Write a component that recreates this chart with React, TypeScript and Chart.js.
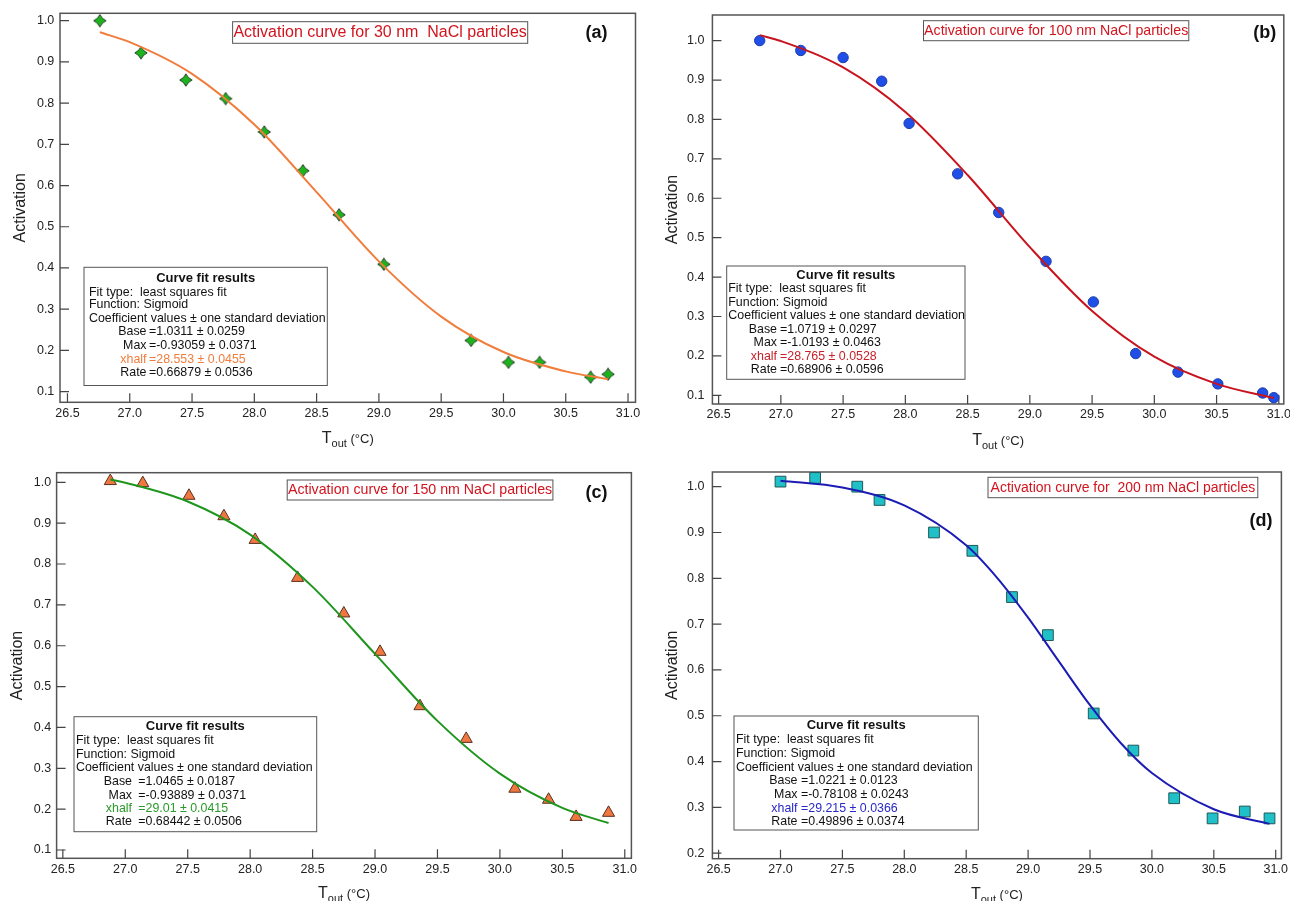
import React, { useEffect, useRef } from 'react';
import { Chart, registerables } from 'chart.js';

Chart.register(...registerables);

const FONT = '"Liberation Sans", Arial, Helvetica, sans-serif';

// ---------- tick labels ----------
const xTickValues = [26.5, 27.0, 27.5, 28.0, 28.5, 29.0, 29.5, 30.0, 30.5, 31.0];
const yTickValues = [0.1, 0.2, 0.3, 0.4, 0.5, 0.6, 0.7, 0.8, 0.9, 1.0];
const yTickValuesD = [0.2, 0.3, 0.4, 0.5, 0.6, 0.7, 0.8, 0.9, 1.0];

// ---------- (a) 30 nm ----------
const tempA = [26.76, 27.09, 27.45, 27.77, 28.08, 28.39, 28.68, 29.04, 29.74, 30.04, 30.29, 30.70, 30.84];
const actA = [1.0, 0.922, 0.856, 0.811, 0.730, 0.636, 0.529, 0.409, 0.224, 0.171, 0.171, 0.135, 0.142];
const fitTempA = [26.76, 27.0, 27.5, 28.0, 28.5, 29.0, 29.5, 30.0, 30.5, 30.84];
const fitActA = [0.972, 0.948, 0.871, 0.748, 0.584, 0.416, 0.282, 0.196, 0.149, 0.130];

// ---------- (b) 100 nm ----------
const tempB = [26.83, 27.16, 27.50, 27.81, 28.03, 28.42, 28.75, 29.13, 29.51, 29.85, 30.19, 30.51, 30.87, 30.96];
const actB = [1.0, 0.975, 0.957, 0.897, 0.790, 0.662, 0.564, 0.440, 0.337, 0.206, 0.159, 0.129, 0.106, 0.094];
const fitTempB = [26.83, 27.0, 27.5, 28.0, 28.5, 29.0, 29.5, 30.0, 30.5, 30.96];
const fitActB = [1.014, 0.999, 0.932, 0.819, 0.659, 0.476, 0.314, 0.198, 0.129, 0.093];

// ---------- (c) 150 nm ----------
const tempC = [26.88, 27.14, 27.51, 27.79, 28.04, 28.38, 28.75, 29.04, 29.36, 29.73, 30.12, 30.39, 30.61, 30.87];
const actC = [1.003, 0.998, 0.967, 0.917, 0.859, 0.766, 0.679, 0.585, 0.452, 0.372, 0.250, 0.223, 0.181, 0.191];
const fitTempC = [26.88, 27.0, 27.5, 28.0, 28.5, 29.0, 29.5, 30.0, 30.5, 30.87];
const fitActC = [1.007, 0.999, 0.953, 0.872, 0.744, 0.580, 0.416, 0.287, 0.203, 0.166];

// ---------- (d) 200 nm ----------
const tempD = [27.0, 27.28, 27.62, 27.80, 28.24, 28.55, 28.87, 29.16, 29.53, 29.85, 30.18, 30.49, 30.75, 30.95];
const actD = [1.011, 1.019, 1.0, 0.971, 0.900, 0.860, 0.759, 0.676, 0.505, 0.424, 0.320, 0.276, 0.291, 0.276];
const fitTempD = [27.0, 27.5, 28.0, 28.5, 28.75, 29.0, 29.25, 29.5, 29.75, 30.0, 30.5, 30.95];
const fitActD = [1.013, 0.998, 0.959, 0.872, 0.801, 0.714, 0.618, 0.523, 0.440, 0.375, 0.296, 0.264];

// ---------- texts ----------
const titles = [
  'Activation curve for 30 nm  NaCl particles',
  'Activation curve for 100 nm NaCl particles',
  'Activation curve for 150 nm NaCl particles',
  'Activation curve for  200 nm NaCl particles',
];
const tags = ['(a)', '(b)', '(c)', '(d)'];
const fitHeading = 'Curve fit results';
const fitHeaderLines = ['Fit type:  least squares fit', 'Function: Sigmoid', 'Coefficient values ± one standard deviation'];
const coeffNames = ['Base', 'Max', 'xhalf', 'Rate'];
const coeffA = ['=1.0311 ± 0.0259', '=-0.93059 ± 0.0371', '=28.553 ± 0.0455', '=0.66879 ± 0.0536'];
const coeffB = ['=1.0719 ± 0.0297', '=-1.0193 ± 0.0463', '=28.765 ± 0.0528', '=0.68906 ± 0.0596'];
const coeffC = ['=1.0465 ± 0.0187', '=-0.93889 ± 0.0371', '=29.01 ± 0.0415', '=0.68442 ± 0.0506'];
const coeffD = ['=1.0221 ± 0.0123', '=-0.78108 ± 0.0243', '=29.215 ± 0.0366', '=0.49896 ± 0.0374'];

type Box = { x0: number; y0: number; x1: number; y1: number };

interface PanelCfg {
  left: number; top: number; width: number; height: number;
  area: Box;
  xRange: [number, number];
  yRange: [number, number];
  yTicks: number[];
  temps: number[]; acts: number[];
  fitTemps: number[]; fitActs: number[];
  marker: string; markerRadius: number; markerFill: string; markerStroke: string;
  lineColor: string; accent: string;
  title: string; titleFont: number; titleBox: Box;
  tag: string; tagX: number; tagY: number;
  fitBox: Box; fitTitleY: number; fitTextX: number; fitLineYs: number[];
  labelRight: number; valueLeft: number; coeffs: string[];
  yTitlePad: number; yLabelPad: number; xTitleDrop: number;
}

const panels: PanelCfg[] = [
  {
    left: 0, top: 0, width: 645, height: 450,
    area: { x0: 60, x1: 635.5, y0: 13.3, y1: 402.3 },
    xRange: [26.44, 31.06], yRange: [0.074, 1.018], yTicks: yTickValues,
    temps: tempA, acts: actA, fitTemps: fitTempA, fitActs: fitActA,
    marker: 'starDiamond', markerRadius: 7, markerFill: '#1cb41c', markerStroke: '#2f402f',
    lineColor: '#f07d3c', accent: '#f07d3c',
    title: titles[0], titleFont: 16, titleBox: { x0: 232.6, y0: 21.7, x1: 527.7, y1: 43.3 },
    tag: tags[0], tagX: 596.5, tagY: 33,
    fitBox: { x0: 84, y0: 267.3, x1: 327.3, y1: 385.5 }, fitTitleY: 278.3, fitTextX: 89,
    fitLineYs: [292.3, 305, 319, 331.7, 346, 359.3, 372.7],
    labelRight: 146.5, valueLeft: 149, coeffs: coeffA,
    yTitlePad: 10.8, yLabelPad: 5.7, xTitleDrop: 41,
  },
  {
    left: 645, top: 0, width: 645, height: 450,
    area: { x0: 67.4, x1: 640.5, y0: 15, y1: 404 },
    xRange: [26.45, 31.04], yRange: [0.078, 1.065], yTicks: yTickValues,
    temps: tempB, acts: actB, fitTemps: fitTempB, fitActs: fitActB,
    marker: 'circle', markerRadius: 5.2, markerFill: '#1f4fe6', markerStroke: '#1a3aa8',
    lineColor: '#c8141e', accent: '#c8202a',
    title: titles[1], titleFont: 14.2, titleBox: { x0: 278.5, y0: 20.7, x1: 543.8, y1: 40.7 },
    tag: tags[1], tagX: 619.8, tagY: 33,
    fitBox: { x0: 81.7, y0: 266, x1: 320, y1: 379.3 }, fitTitleY: 275, fitTextX: 83.3,
    fitLineYs: [289, 302.3, 315.7, 329.3, 342.7, 356.7, 369.3],
    labelRight: 132, valueLeft: 135, coeffs: coeffB,
    yTitlePad: 17.9, yLabelPad: 8, xTitleDrop: 41,
  },
  {
    left: 0, top: 450, width: 645, height: 451,
    area: { x0: 56.6, x1: 631.4, y0: 22.7, y1: 408.3 },
    xRange: [26.45, 31.053], yRange: [0.0797, 1.0235], yTicks: yTickValues,
    temps: tempC, acts: actC, fitTemps: fitTempC, fitActs: fitActC,
    marker: 'triangle', markerRadius: 7, markerFill: '#f07840', markerStroke: '#5a3020',
    lineColor: '#1e961e', accent: '#2a9a2a',
    title: titles[2], titleFont: 14.2, titleBox: { x0: 287.2, y0: 30, x1: 552.9, y1: 50 },
    tag: tags[2], tagX: 596.5, tagY: 43,
    fitBox: { x0: 74, y0: 266.7, x1: 316.7, y1: 381.7 }, fitTitleY: 276.7, fitTextX: 76,
    fitLineYs: [291, 304.3, 317.7, 331.7, 345.7, 359, 371.7],
    labelRight: 132, valueLeft: 138.3, coeffs: coeffC,
    yTitlePad: 7.5, yLabelPad: 5.5, xTitleDrop: 40,
  },
  {
    left: 645, top: 450, width: 645, height: 451,
    area: { x0: 67.4, x1: 641.3, y0: 22, y1: 408.7 },
    xRange: [26.45, 31.046], yRange: [0.188, 1.032], yTicks: yTickValuesD,
    temps: tempD, acts: actD, fitTemps: fitTempD, fitActs: fitActD,
    marker: 'rect', markerRadius: 7.6, markerFill: '#20c0c8', markerStroke: '#205858',
    lineColor: '#1c1cb4', accent: '#2828c8',
    title: titles[3], titleFont: 14, titleBox: { x0: 343, y0: 27.3, x1: 612.8, y1: 47.7 },
    tag: tags[3], tagX: 616, tagY: 71.5,
    fitBox: { x0: 89, y0: 266, x1: 333.3, y1: 380 }, fitTitleY: 275, fitTextX: 91,
    fitLineYs: [289.3, 303.3, 317.3, 330.7, 344.3, 358.3, 371.7],
    labelRight: 152.5, valueLeft: 156, coeffs: coeffD,
    yTitlePad: 17.9, yLabelPad: 8, xTitleDrop: 40,
  },
];

function makeStarDiamond(size: number, fill: string, stroke: string): HTMLCanvasElement {
  const c = document.createElement('canvas');
  c.width = size;
  c.height = size;
  const g = c.getContext('2d') as CanvasRenderingContext2D;
  const m = size / 2;
  const r = size / 2 - 0.8;
  const k = 0.3 * r;
  g.beginPath();
  g.moveTo(m, m - r);
  g.quadraticCurveTo(m + k, m - k, m + r, m);
  g.quadraticCurveTo(m + k, m + k, m, m + r);
  g.quadraticCurveTo(m - k, m + k, m - r, m);
  g.quadraticCurveTo(m - k, m - k, m, m - r);
  g.closePath();
  g.fillStyle = fill;
  g.fill();
  g.lineWidth = 1;
  g.strokeStyle = stroke;
  g.stroke();
  return c;
}

function Panel({ cfg }: { cfg: PanelCfg }) {
  const ref = useRef<HTMLCanvasElement>(null);

  useEffect(() => {
    const canvas = ref.current;
    if (!canvas) return;
    const a = cfg.area;
    const pointStyle: any = cfg.marker === 'starDiamond'
      ? makeStarDiamond(14, cfg.markerFill, cfg.markerStroke)
      : cfg.marker;

    const decor = {
      id: 'igorDecor',
      beforeDatasetsDraw(chart: any) {
        const { ctx, chartArea: ca, scales } = chart;
        ctx.save();
        ctx.strokeStyle = '#555';
        ctx.lineWidth = 1.5;
        ctx.strokeRect(ca.left, ca.top, ca.right - ca.left, ca.bottom - ca.top);
        ctx.strokeStyle = '#444';
        ctx.lineWidth = 1.2;
        ctx.beginPath();
        scales.x.ticks.forEach((t: any) => {
          const px = scales.x.getPixelForValue(t.value);
          ctx.moveTo(px, ca.bottom);
          ctx.lineTo(px, ca.bottom - 9);
        });
        scales.y.ticks.forEach((t: any) => {
          const py = scales.y.getPixelForValue(t.value);
          ctx.moveTo(ca.left, py);
          ctx.lineTo(ca.left + 9, py);
        });
        ctx.stroke();
        ctx.restore();
      },
      afterDatasetsDraw(chart: any) {
        const { ctx, chartArea: ca } = chart;
        ctx.save();
        ctx.textBaseline = 'middle';

        // title box
        const tb = cfg.titleBox;
        ctx.fillStyle = '#fff';
        ctx.fillRect(tb.x0, tb.y0, tb.x1 - tb.x0, tb.y1 - tb.y0);
        ctx.strokeStyle = '#555';
        ctx.lineWidth = 1;
        ctx.strokeRect(tb.x0, tb.y0, tb.x1 - tb.x0, tb.y1 - tb.y0);
        ctx.font = `${cfg.titleFont}px ${FONT}`;
        ctx.fillStyle = '#d2141e';
        ctx.textAlign = 'center';
        ctx.fillText(cfg.title, (tb.x0 + tb.x1) / 2, (tb.y0 + tb.y1) / 2 + 0.5);

        // panel tag
        ctx.font = `bold 18px ${FONT}`;
        ctx.fillStyle = '#111';
        ctx.fillText(cfg.tag, cfg.tagX, cfg.tagY);

        // fit results box
        const fb = cfg.fitBox;
        ctx.fillStyle = '#fff';
        ctx.fillRect(fb.x0, fb.y0, fb.x1 - fb.x0, fb.y1 - fb.y0);
        ctx.strokeStyle = '#555';
        ctx.lineWidth = 1;
        ctx.strokeRect(fb.x0, fb.y0, fb.x1 - fb.x0, fb.y1 - fb.y0);
        ctx.font = `bold 13px ${FONT}`;
        ctx.fillStyle = '#111';
        ctx.textAlign = 'center';
        ctx.fillText(fitHeading, (fb.x0 + fb.x1) / 2, cfg.fitTitleY);
        ctx.font = `12.4px ${FONT}`;
        ctx.textAlign = 'left';
        fitHeaderLines.forEach((s, i) => ctx.fillText(s, cfg.fitTextX, cfg.fitLineYs[i]));
        coeffNames.forEach((name, i) => {
          const y = cfg.fitLineYs[3 + i];
          ctx.fillStyle = i === 2 ? cfg.accent : '#111';
          ctx.textAlign = 'right';
          ctx.fillText(name, cfg.labelRight, y);
          ctx.textAlign = 'left';
          ctx.fillText(cfg.coeffs[i], cfg.valueLeft, y);
        });

        // x axis title with subscript
        const cx = (ca.left + ca.right) / 2;
        const base = ca.bottom + cfg.xTitleDrop;
        ctx.textBaseline = 'alphabetic';
        ctx.fillStyle = '#222';
        ctx.font = `16px ${FONT}`;
        const wT = ctx.measureText('T').width;
        ctx.font = `11px ${FONT}`;
        const wS = ctx.measureText('out').width;
        ctx.font = `13px ${FONT}`;
        const wU = ctx.measureText(' (°C)').width;
        let x = cx - (wT + wS + wU) / 2;
        ctx.textAlign = 'left';
        ctx.font = `16px ${FONT}`;
        ctx.fillText('T', x, base);
        x += wT;
        ctx.font = `11px ${FONT}`;
        ctx.fillText('out', x, base + 4);
        x += wS;
        ctx.font = `13px ${FONT}`;
        ctx.fillText(' (°C)', x, base);
        ctx.restore();
      },
    };

    const tickFont = { family: FONT, size: 12.5 };

    const chart = new Chart(canvas, {
      type: 'scatter',
      data: {
        datasets: [
          {
            type: 'line',
            label: 'Sigmoid fit',
            data: cfg.fitTemps.map((t, i) => ({ x: t, y: cfg.fitActs[i] })),
            borderColor: cfg.lineColor,
            borderWidth: 2,
            pointRadius: 0,
            cubicInterpolationMode: 'monotone',
            fill: false,
          } as any,
          {
            type: 'scatter',
            label: 'Activation',
            data: cfg.temps.map((t, i) => ({ x: t, y: cfg.acts[i] })),
            pointStyle,
            pointRadius: cfg.markerRadius,
            backgroundColor: cfg.markerFill,
            borderColor: cfg.markerStroke,
            borderWidth: 1,
            clip: false,
          } as any,
        ],
      },
      options: {
        responsive: false,
        animation: false,
        devicePixelRatio: 1,
        events: [],
        layout: { padding: { left: 0, top: a.y0, right: cfg.width - a.x1, bottom: 0 } },
        plugins: { legend: { display: false }, tooltip: { enabled: false }, title: { display: false } },
        scales: {
          x: {
            type: 'linear',
            min: cfg.xRange[0],
            max: cfg.xRange[1],
            afterBuildTicks: (s: any) => { s.ticks = xTickValues.map((v) => ({ value: v })); },
            afterFit: (s: any) => {
              s.height = cfg.height - a.y1;
              s.paddingLeft = 0; s.paddingRight = 0; s.paddingTop = 0; s.paddingBottom = 0;
            },
            grid: { display: false, drawTicks: false },
            border: { display: false },
            ticks: {
              font: tickFont, color: '#222', padding: 3.5, maxRotation: 0, autoSkip: false,
              callback: (v: any) => Number(v).toFixed(1),
            },
          },
          y: {
            type: 'linear',
            min: cfg.yRange[0],
            max: cfg.yRange[1],
            afterBuildTicks: (s: any) => { s.ticks = cfg.yTicks.map((v) => ({ value: v })); },
            afterFit: (s: any) => {
              s.width = a.x0;
              s.paddingLeft = 0; s.paddingRight = 0; s.paddingTop = 0; s.paddingBottom = 0;
            },
            grid: { display: false, drawTicks: false },
            border: { display: false },
            ticks: {
              font: tickFont, color: '#222', padding: cfg.yLabelPad, autoSkip: false,
              callback: (v: any) => Number(v).toFixed(1),
            },
            title: {
              display: true, text: 'Activation', color: '#222',
              font: { family: FONT, size: 16 },
              padding: { top: cfg.yTitlePad, bottom: 0 },
            },
          },
        },
      } as any,
      plugins: [decor],
    });
    return () => chart.destroy();
  }, [cfg]);

  return (
    <canvas
      ref={ref}
      width={cfg.width}
      height={cfg.height}
      style={{ position: 'absolute', left: cfg.left, top: cfg.top, width: cfg.width, height: cfg.height }}
    />
  );
}

export default function App() {
  return (
    <div style={{ position: 'absolute', left: 0, top: 0, width: 1290, height: 901, background: '#fff', overflow: 'hidden' }}>
      {panels.map((p, i) => (
        <Panel key={i} cfg={p} />
      ))}
    </div>
  );
}
